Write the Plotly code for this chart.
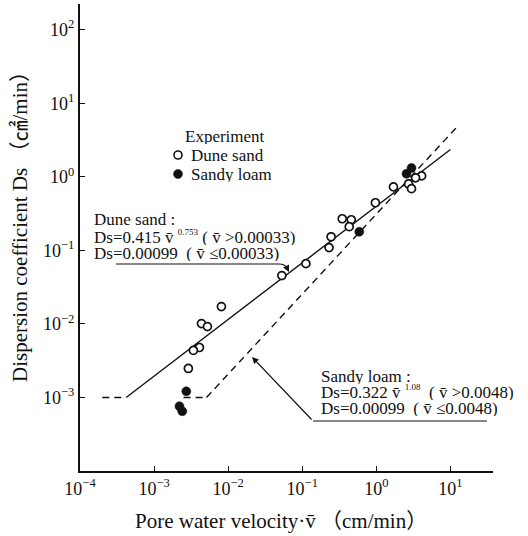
import plotly.graph_objects as go

# ---------------- data ----------------
dune_v = [4.08, 3.38, 2.72, 2.98, 1.70, 0.97, 0.346, 0.458, 0.43, 0.245, 0.23,
          0.112, 0.053, 0.0081, 0.00436, 0.00525, 0.00409, 0.00339, 0.0029]
dune_ds = [1.03, 0.97, 0.80, 0.69, 0.73, 0.444, 0.269, 0.261, 0.21, 0.153, 0.109,
           0.066, 0.0454, 0.0172, 0.0101, 0.0092, 0.00478, 0.00436, 0.00248]
loam_v = [2.98, 2.55, 0.588, 0.00272, 0.0022, 0.0024]
loam_ds = [1.32, 1.10, 0.179, 0.00121, 0.00076, 0.00065]

# fitted relations (end points of the drawn lines)
dune_const_v = [0.0002, 0.00042]
dune_const_ds = [0.001, 0.001]
dune_fit_v = [0.00042, 10.0]
dune_fit_ds = [0.001, 2.35]
loam_const_v = [0.0025, 0.0051]
loam_const_ds = [0.001, 0.001]
loam_fit_v = [0.0051, 12.2]
loam_fit_ds = [0.001, 4.75]

x_tickvals = [1e-4, 1e-3, 1e-2, 1e-1, 1e0, 1e1]
x_ticktext = ["10<sup>−4</sup>", "10<sup>−3</sup>", "10<sup>−2</sup>",
              "10<sup>−1</sup>", "10<sup>0</sup>", "10<sup>1</sup>"]
y_tickvals = [1e-3, 1e-2, 1e-1, 1e0, 1e1, 1e2]
y_ticktext = ["10<sup>−3</sup>", "10<sup>−2</sup>", "10<sup>−1</sup>",
              "10<sup>0</sup>", "10<sup>1</sup>", "10<sup>2</sup>"]

# ---------------- layout geometry ----------------
W, H = 528, 536
L, R, T, B = 80, 493, 4, 471   # plot area in pixels


def PX(px):
    return (px - L) / (R - L)


def PY(py):
    return (B - py) / (B - T)


FONT = "Liberation Serif, 'Noto Sans CJK JP', serif"
BLACK = "#111111"

fig = go.Figure()

dash_style = "7px,5px"
fig.add_trace(go.Scatter(x=dune_const_v, y=dune_const_ds, mode="lines",
                         line=dict(color=BLACK, width=1.4, dash=dash_style),
                         showlegend=False, hoverinfo="skip"))
fig.add_trace(go.Scatter(x=dune_fit_v, y=dune_fit_ds, mode="lines",
                         line=dict(color=BLACK, width=1.4),
                         showlegend=False, hoverinfo="skip"))
fig.add_trace(go.Scatter(x=loam_const_v, y=loam_const_ds, mode="lines",
                         line=dict(color=BLACK, width=1.4, dash=dash_style),
                         showlegend=False, hoverinfo="skip"))
fig.add_trace(go.Scatter(x=loam_fit_v, y=loam_fit_ds, mode="lines",
                         line=dict(color=BLACK, width=1.4, dash=dash_style),
                         showlegend=False, hoverinfo="skip"))

fig.add_trace(go.Scatter(x=dune_v, y=dune_ds, mode="markers", name="Dune sand",
                         marker=dict(symbol="circle", size=8, color="white",
                                     line=dict(color=BLACK, width=1.7)),
                         showlegend=False))
fig.add_trace(go.Scatter(x=loam_v, y=loam_ds, mode="markers", name="Sandy loam",
                         marker=dict(symbol="circle", size=9, color=BLACK,
                                     line=dict(color=BLACK, width=0.5)),
                         showlegend=False))

annotations = []


def text(px, py, s, size=17, xanchor="left"):
    annotations.append(dict(x=PX(px), y=PY(py), xref="paper", yref="paper",
                            text=s, showarrow=False, xanchor=xanchor,
                            yanchor="middle", height=16, valign="middle",
                            font=dict(family=FONT, size=size, color=BLACK)))


small = "<sup><span style='font-size:9px'>%s</span></sup>"

# legend
text(183, 136, "Experiment")
text(189, 155, "Dune sand")
text(189, 174, "Sandy loam")

# dune sand equations
text(92, 219, "Dune sand :")
text(92, 237, "Ds=0.415 v̄ " + (small % "0.753") + " ( v̄ >0.00033)")
text(92, 253, "Ds=0.00099  ( v̄ ≤0.00033)")

# sandy loam equations
text(319, 376, "Sandy loam :")
text(319, 392, "Ds=0.322 v̄ " + (small % "1.08") + "  ( v̄ >0.0048)")
text(319, 408, "Ds=0.00099  ( v̄ ≤0.0048)")

# axis titles
annotations.append(dict(x=PX(20), y=PY(222), xref="paper", yref="paper",
                        text="Dispersion coefficient Ds （㎠/min）", textangle=-90,
                        showarrow=False, xanchor="center", yanchor="middle",
                        font=dict(family=FONT, size=21, color=BLACK)))
annotations.append(dict(x=PX(281), y=PY(521), xref="paper", yref="paper",
                        text="Pore water velocity·v̄ （cm/min）",
                        showarrow=False, xanchor="center", yanchor="middle",
                        font=dict(family=FONT, size=21, color=BLACK)))

# arrows
annotations.append(dict(x=PX(252), y=PY(357), xref="paper", yref="paper",
                        text="", showarrow=True, ax=61, ay=64,
                        arrowhead=2, arrowsize=1.1, arrowwidth=1.2,
                        arrowcolor=BLACK, standoff=0))
annotations.append(dict(x=PX(289), y=PY(272), xref="paper", yref="paper",
                        text="", showarrow=True, ax=-3, ay=-6,
                        arrowhead=2, arrowsize=1.1, arrowwidth=1.2,
                        arrowcolor=BLACK, standoff=0))

shapes = []
# legend symbols
shapes.append(dict(type="circle", xref="paper", yref="paper",
                   xsizemode="pixel", ysizemode="pixel",
                   xanchor=PX(178), yanchor=PY(155), x0=-4, x1=4, y0=-4, y1=4,
                   line=dict(color=BLACK, width=1.6), fillcolor="white"))
shapes.append(dict(type="circle", xref="paper", yref="paper",
                   xsizemode="pixel", ysizemode="pixel",
                   xanchor=PX(178), yanchor=PY(174), x0=-4.5, x1=4.5, y0=-4.5, y1=4.5,
                   line=dict(color=BLACK, width=0.5), fillcolor=BLACK))
# leader lines
shapes.append(dict(type="path", xref="paper", yref="paper",
                   path="M %f,%f L %f,%f Q %f,%f %f,%f" % (
                       PX(116), PY(264), PX(279), PY(264),
                       PX(285), PY(264), PX(287), PY(268)),
                   line=dict(color=BLACK, width=1.2)))
shapes.append(dict(type="line", xref="paper", yref="paper",
                   x0=PX(313), y0=PY(421), x1=PX(487), y1=PY(421),
                   line=dict(color=BLACK, width=1.2)))

fig.update_layout(
    width=W, height=H,
    margin=dict(l=L, r=W - R, t=T, b=H - B, pad=0),
    paper_bgcolor="white", plot_bgcolor="white",
    showlegend=False,
    annotations=annotations, shapes=shapes,
    font=dict(family=FONT, size=18, color=BLACK),
    xaxis=dict(type="log", range=[-4, 1.574], tickvals=x_tickvals,
               ticktext=x_ticktext, ticks="inside", ticklen=5, tickwidth=1.4,
               tickcolor=BLACK, showline=True, linewidth=2, linecolor=BLACK,
               showgrid=False, zeroline=False, ticklabelstandoff=0,
               tickfont=dict(family=FONT, size=18, color=BLACK)),
    yaxis=dict(type="log", range=[-4, 2.35], tickvals=y_tickvals,
               ticktext=y_ticktext, ticks="inside", ticklen=5, tickwidth=1.4,
               tickcolor=BLACK, showline=True, linewidth=2, linecolor=BLACK,
               showgrid=False, zeroline=False,
               tickfont=dict(family=FONT, size=18, color=BLACK)),
)

fig.write_html("out.html")
